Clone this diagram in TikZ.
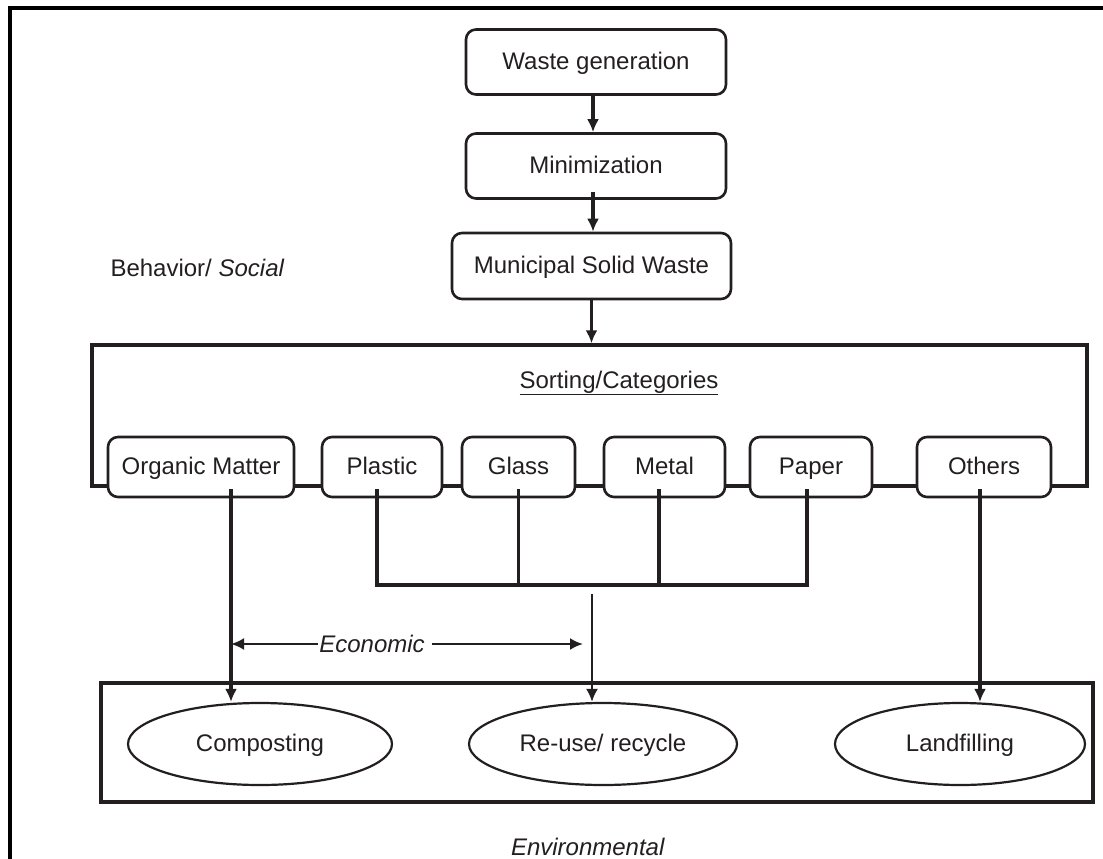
\documentclass[tikz,border=0pt]{standalone}
\usepackage{fontspec}
\setmainfont{Liberation Sans}
\usetikzlibrary{shapes.geometric,arrows.meta,calc}
\definecolor{ink}{HTML}{231F20}
\begin{document}
\begin{tikzpicture}[x=1pt,y=-1pt,
  font=\fontsize{24}{28}\selectfont,
  rbox/.style={draw=ink, line width=2.6pt, rounded corners=10pt, fill=white, inner sep=0pt, text=ink, text height=17pt, text depth=1.5pt},
  catbox/.style={rbox, minimum height=60pt},
  oval/.style={ellipse, draw=ink, line width=2.2pt, inner sep=0pt, text=ink, minimum height=82pt, text height=17pt, text depth=1.5pt},
  bigbox/.style={draw=ink, line width=3.4pt, inner sep=0pt},
  conn/.style={draw=ink, line width=3.2pt},
  thinconn/.style={draw=ink, line width=2.3pt},
  tip/.style={-{Latex[length=13pt,width=12pt]}},
  lbl/.style={text=ink, inner sep=1pt},
  frameline/.style={draw=black, line width=3.4pt}
]
\useasboundingbox (0,0) rectangle (1103,859);
\draw[frameline] (10,859) -- (10,8) -- (1103,8);

% top chain
\node[rbox, minimum width=260pt, minimum height=65pt] (wg) at (596,62) {Waste generation};
\node[rbox, minimum width=260pt, minimum height=65pt] (mini) at (596,166) {Minimization};
\node[rbox, minimum width=279pt, minimum height=66pt] (msw) at (591.5,266) {Municipal Solid Waste};
\node[lbl] (beh) at (197.5,268) {Behavior/ \textit{Social}};

% sorting box
\node[bigbox, minimum width=995pt, minimum height=141pt] (sort) at (589.5,415.5) {};
\node[lbl] (sortlbl) at (619,383) {\underline{Sorting/Categories}};

\coordinate (axisTop) at ([xshift=-3pt]wg.south);
\draw[conn, tip] (axisTop) -- (axisTop |- mini.north);
\coordinate (axisMid) at ([xshift=-3pt,yshift=8pt]mini.south);
\draw[conn, tip] (axisMid) -- (axisMid |- msw.north);
\draw[conn, tip] (msw.south) -- (msw.south |- sort.north);

% categories
\node[catbox, minimum width=186pt] (om) at (201,467) {Organic Matter};
\node[catbox, minimum width=120pt] (pl) at (382,467) {Plastic};
\node[catbox, minimum width=113pt] (gl) at (518.5,467) {Glass};
\node[catbox, minimum width=121pt] (me) at (664.5,467) {Metal};
\node[catbox, minimum width=122pt] (pa) at (811,467) {Paper};
\node[catbox, minimum width=134pt] (ot) at (984,467) {Others};

% environmental box and ellipses
\node[bigbox, minimum width=992pt, minimum height=119pt] (env) at (597,742.5) {};
\node[oval, minimum width=264pt] (comp) at (260,744) {Composting};
\node[oval, minimum width=268pt] (reuse) at (603,744) {Re-use/ recycle};
\node[oval, minimum width=250pt] (land) at (960,744) {Landfilling};
\node[lbl] (envlbl) at (588,847) {\textit{Environmental}};

% outlets
\coordinate (omOut) at ([xshift=30pt,yshift=9pt]om.south);
\coordinate (plOut) at ([xshift=-5pt,yshift=9pt]pl.south);
\coordinate (glOut) at ([yshift=9pt]gl.south);
\coordinate (meOut) at ([xshift=-5.5pt,yshift=9pt]me.south);
\coordinate (paOut) at ([xshift=-4pt,yshift=9pt]pa.south);
\coordinate (otOut) at ([xshift=-4pt,yshift=9pt]ot.south);
\coordinate (bus) at (593,585);
\coordinate (rStart) at (592,594);

\draw[conn, tip] (omOut) -- (omOut |- comp.north);
\draw[conn] (plOut) -- (plOut |- bus) -- ([xshift=1.6pt]paOut |- bus);
\draw[conn] (glOut) -- (glOut |- bus);
\draw[conn] (meOut) -- (meOut |- bus);
\draw[conn] (paOut) -- (paOut |- bus);
\draw[thinconn, tip] (rStart) -- (rStart |- reuse.north);
\draw[conn, tip] (otOut) -- (otOut |- land.north);

% economic
\node[lbl, inner xsep=1pt] (econ) at (372,644) {\textit{Economic}};
\coordinate (eL) at (omOut |- econ);
\coordinate (eR) at (583,644);
\draw[thinconn, tip] (econ.west) -- (eL);
\draw[thinconn, tip] ([xshift=6pt]econ.east) -- (eR);
\end{tikzpicture}
\end{document}
